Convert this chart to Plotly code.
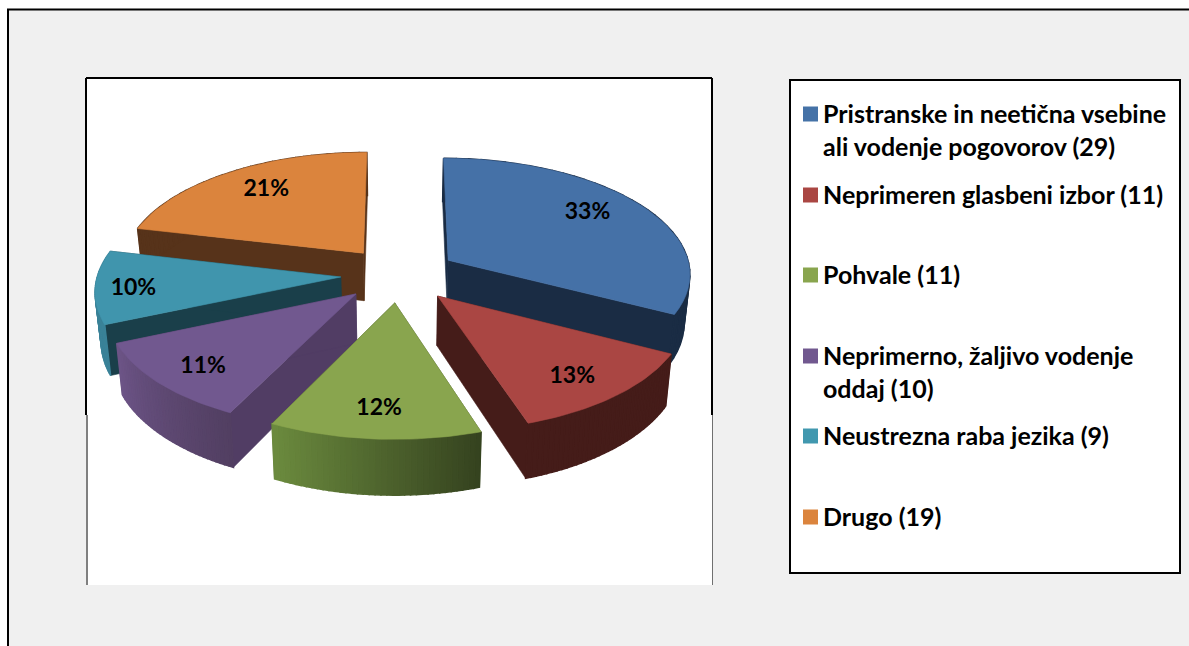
import math
import plotly.graph_objects as go

# ---- data ----
categories = ["Pristranske in neetična vsebine<br>ali vodenje pogovorov (29)",
              "Neprimeren glasbeni izbor (11)",
              "Pohvale (11)",
              "Neprimerno, žaljivo vodenje<br>oddaj (10)",
              "Neustrezna raba jezika (9)",
              "Drugo (19)"]
values = [29, 11, 11, 10, 9, 19]
percent_labels = ["33%", "13%", "12%", "11%", "10%", "21%"]

# ---- styles ----
top_colors = ["#4571a7", "#aa4643", "#89a54e", "#71588f", "#4095ad", "#db843d"]
legend_colors = ["#4572a7", "#aa4643", "#89a54e", "#71588f", "#4198af", "#db843d"]
radial_colors = ["#1a2c44", "#451c19", "#3f5023", "#513d64", "#1a3f4a", "#57331a"]
outer_from = ["#1a2c44", "#451c19", "#35431f", "#523f62", "#3a8298", "#57331a"]
outer_to = ["#1a2c44", "#451c19", "#6b8a3e", "#6c5486", "#3a8298", "#57331a"]
label_offsets = [(3, -7), (13, 13), (-2, 14), (-18, 12), (-36, 5), (-1, -5)]
draw_order = [5, 0, 4, 3, 1, 2]
LEGEND_Y = [129, 194, 274, 371, 435, 516]
LEGEND_SQ_Y = [114, 195, 275, 356, 436, 517]

CX, CY, RX, RY, K, PULL, H, CONV = 399, 274.5, 243, 115.6, 0.1056, 0.24, 48.5, 0.02


def project(X, Y, low=False):
    s = 1 / (1 + K * Y)
    x = CX + X * s * RX * ((1 - CONV) if low else 1)
    y = CY - Y * s * RY + (H * s if low else 0)
    return x, y


def hex_mix(a, b, t):
    pa = [int(a[i:i + 2], 16) for i in (1, 3, 5)]
    pb = [int(b[i:i + 2], 16) for i in (1, 3, 5)]
    return "rgb(%d,%d,%d)" % tuple(round(u + (v - u) * t) for u, v in zip(pa, pb))


def poly(fig, pts, color, width=0.6):
    fig.add_trace(go.Scatter(x=[p[0] for p in pts] + [pts[0][0]],
                             y=[p[1] for p in pts] + [pts[0][1]],
                             mode="lines", fill="toself", fillcolor=color,
                             line=dict(color=color, width=width),
                             hoverinfo="skip", showlegend=False))


fig = go.Figure()
total = sum(values)
edges = [0]
for v in values:
    edges.append(edges[-1] + v / total * 2 * math.pi)

for i in draw_order:
    a0, a1 = edges[i], edges[i + 1]
    mid = (a0 + a1) / 2
    ox, oy = PULL * math.sin(mid), PULL * math.cos(mid)
    n = 36
    ring = [(ox + math.sin(a0 + (a1 - a0) * j / n), oy + math.cos(a0 + (a1 - a0) * j / n))
            for j in range(n + 1)]
    # radial walls
    for end in (ring[0], ring[-1]):
        poly(fig, [project(ox, oy), project(*end), project(*end, low=True), project(ox, oy, low=True)],
             radial_colors[i])
    # outer wall, shaded strip by strip
    for j in range(n):
        c = hex_mix(outer_from[i], outer_to[i], j / (n - 1))
        poly(fig, [project(*ring[j]), project(*ring[j + 1]),
                   project(*ring[j + 1], low=True), project(*ring[j], low=True)], c, width=1.5)
    # top face
    poly(fig, [project(ox, oy)] + [project(*p) for p in ring], top_colors[i])

# percent labels
lx, ly = [], []
for i in range(len(values)):
    mid = (edges[i] + edges[i + 1]) / 2
    r = PULL + 0.7
    x, y = project(r * math.sin(mid), r * math.cos(mid))
    lx.append(x + label_offsets[i][0])
    ly.append(y + label_offsets[i][1])
fig.add_trace(go.Scatter(x=lx, y=ly, mode="text", text=["<b>%s</b>" % t for t in percent_labels],
                         textfont=dict(family="Lato", size=23, color="#000000"),
                         hoverinfo="skip", showlegend=False))

# legend
fig.add_trace(go.Scatter(x=[810.5] * len(values), y=LEGEND_SQ_Y, mode="markers",
                         marker=dict(symbol="square", size=15, color=legend_colors, line=dict(width=0)),
                         hoverinfo="skip", showlegend=False))
for name, y in zip(categories, LEGEND_Y):
    fig.add_annotation(x=821, y=y, xref="x", yref="y", text="<b>%s</b>" % name, showarrow=False,
                       xanchor="left", yanchor="middle", align="left",
                       font=dict(family="Lato", size=25, color="#000000"))

black = dict(color="#000000", width=2)
shapes = [
    dict(type="rect", x0=8, y0=9.5, x1=1200, y1=670, line=black, fillcolor="#f0f0f0"),
    dict(type="rect", x0=86, y0=78, x1=712, y1=585, line=dict(width=0), fillcolor="#ffffff"),
    dict(type="line", x0=86, y0=78, x1=712, y1=78, line=black),
    dict(type="line", x0=86, y0=78, x1=86, y1=415, line=black),
    dict(type="line", x0=712, y0=78, x1=712, y1=415, line=black),
    dict(type="line", x0=87, y0=415, x1=87, y1=585, line=dict(color="#808080", width=2)),
    dict(type="line", x0=712.5, y0=415, x1=712.5, y1=585, line=dict(color="#707070", width=1)),
    dict(type="rect", x0=790, y0=80, x1=1180, y1=573, line=black, fillcolor="#ffffff"),
]
for s in shapes:
    s.update(layer="below", xref="x", yref="y")

fig.update_layout(
    width=1189, height=646, autosize=False,
    margin=dict(l=0, r=0, t=0, b=0),
    paper_bgcolor="#ffffff", plot_bgcolor="#ffffff",
    showlegend=False, shapes=shapes,
    xaxis=dict(range=[0, 1189], visible=False, fixedrange=True),
    yaxis=dict(range=[646, 0], visible=False, fixedrange=True),
)
fig.write_html("out.html", config={"displayModeBar": False},
               post_script="document.body.style.margin='0';document.body.style.overflow='hidden';")
